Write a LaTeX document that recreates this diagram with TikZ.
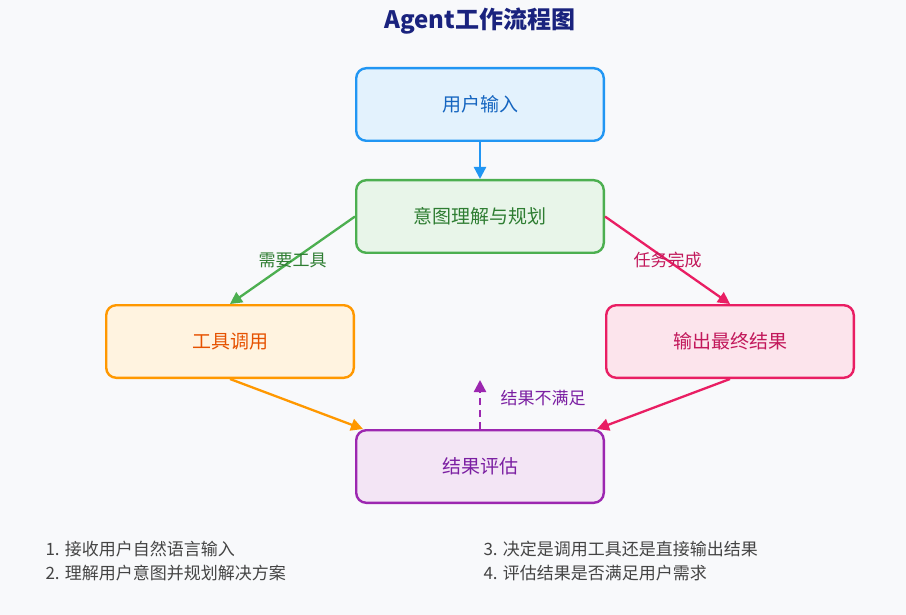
\documentclass[tikz,border=0pt]{standalone}
\usepackage{fontspec}
\newfontfamily\cjk{Noto Sans CJK SC}
\usepackage{tikz}
\usetikzlibrary{positioning,calc}
\usetikzlibrary{arrows.meta}

\definecolor{bgcol}{HTML}{F8F9FB}
\definecolor{titlecol}{HTML}{1A237E}
\definecolor{notecol}{HTML}{444444}
\definecolor{bluefill}{HTML}{E3F2FD}
\definecolor{blueline}{HTML}{2196F3}
\definecolor{bluetext}{HTML}{1565C0}
\definecolor{greenfill}{HTML}{E8F5E9}
\definecolor{greenline}{HTML}{4CAF50}
\definecolor{greentext}{HTML}{2E7D32}
\definecolor{orangefill}{HTML}{FFF3E0}
\definecolor{orangeline}{HTML}{FF9800}
\definecolor{orangetext}{HTML}{E65100}
\definecolor{pinkfill}{HTML}{FCE4EC}
\definecolor{pinkline}{HTML}{E91E63}
\definecolor{pinktext}{HTML}{C2185B}
\definecolor{purplefill}{HTML}{F3E5F5}
\definecolor{purpleline}{HTML}{9C27B0}
\definecolor{purpletext}{HTML}{7B1FA2}

\begin{document}
\begin{tikzpicture}[x=1pt,y=-1pt]
		\tikzset{
			stepbox/.style={draw,line width=2.4pt,rounded corners=10pt,minimum width=247.6pt,minimum height=72.6pt,font=\cjk\fontsize{19}{23}\selectfont},
			link/.style={line width=2.3pt,-{Triangle[length=12pt,width=12pt]}},
			linklabel/.style={font=\cjk\fontsize{17}{21}\selectfont},
			note/.style={anchor=west,text=notecol,font=\cjk\fontsize{17}{21}\selectfont},
		}
		\fill[bgcol] (0,0) rectangle (906,615);
		\node[text=titlecol,font=\cjk\bfseries\fontsize{24}{28}\selectfont] (title) at (480,21) {Agent工作流程图};

		\node[stepbox,draw=blueline,fill=bluefill,text=bluetext] (input) at (480,104.5) {用户输入};
		\node[stepbox,draw=greenline,fill=greenfill,text=greentext] (plan) at (480,216.5) {意图理解与规划};
		\node[stepbox,draw=orangeline,fill=orangefill,text=orangetext] (tools) at (230,341.5) {工具调用};
		\node[stepbox,draw=pinkline,fill=pinkfill,text=pinktext] (output) at (730,341.5) {输出最终结果};
		\node[stepbox,draw=purpleline,fill=purplefill,text=purpletext] (eval) at (480,466.5) {结果评估};

		\coordinate (evalL) at ([xshift=8pt]eval.north west);
		\coordinate (evalR) at ([xshift=-8pt]eval.north east);
		\coordinate (retry) at (480,380);

		\draw[link,blueline] (input) -- (plan);
		\draw[link,greenline] (plan.west) -- node[linklabel,text=greentext] {需要工具} (tools.north);
		\draw[link,pinkline] (plan.east) -- node[linklabel,text=pinktext] {任务完成} (output.north);
		\draw[link,orangeline] (tools.south) -- (evalL);
		\draw[link,pinkline] (output.south) -- (evalR);
		\draw[link,purpleline,dash pattern=on 7pt off 5pt] (eval.north) -- (retry);
		\node[linklabel,text=purpletext,anchor=west] (retrylabel) at (497,398) {结果不满足};

		\foreach \x/\y/\txt in {42/549/{1. 接收用户自然语言输入},42/573/{2. 理解用户意图并规划解决方案},480/549/{3. 决定是调用工具还是直接输出结果},480/573/{4. 评估结果是否满足用户需求}}{
				\node[note] at (\x,\y) {\txt};
			}
	\end{tikzpicture}
\end{document}
